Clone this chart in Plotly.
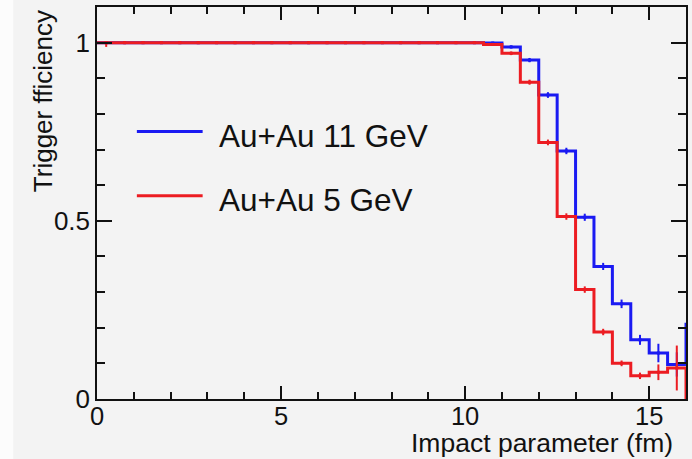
import numpy as np
import plotly.graph_objects as go

# Histogram binning (impact parameter, fm)
bin_width = 0.5
n_bins = 33
edges = np.arange(n_bins + 1) * bin_width
centers = edges[:-1] + bin_width / 2

# Trigger efficiency per bin, Au+Au 11 GeV
eff_11 = [1.0, 1.0, 1.0, 1.0, 1.0, 1.0, 1.0, 1.0, 1.0, 1.0, 1.0,
          1.0, 1.0, 1.0, 1.0, 1.0, 1.0, 1.0, 1.0, 1.0, 1.0,
          0.999, 0.988, 0.951, 0.853, 0.696, 0.510, 0.372, 0.267,
          0.166, 0.129, 0.097, 0.210]
err_lo_11 = [0.002, 0.002, 0.002, 0.002, 0.002, 0.002, 0.002, 0.002, 0.002, 0.002, 0.002,
             0.002, 0.002, 0.002, 0.002, 0.002, 0.002, 0.002, 0.002, 0.002, 0.002,
             0.002, 0.004, 0.006, 0.008, 0.009, 0.010, 0.010, 0.012,
             0.014, 0.026, 0.034, 0.050]
err_hi_11 = [0.0, 0.0, 0.0, 0.0, 0.0, 0.0, 0.0, 0.0, 0.0, 0.0, 0.0,
             0.0, 0.0, 0.0, 0.0, 0.0, 0.0, 0.0, 0.0, 0.0, 0.0,
             0.001, 0.004, 0.006, 0.008, 0.009, 0.010, 0.010, 0.012,
             0.014, 0.026, 0.034, 0.050]

# Trigger efficiency per bin, Au+Au 5 GeV
eff_5 = [1.0, 1.0, 1.0, 1.0, 1.0, 1.0, 1.0, 1.0, 1.0, 1.0, 1.0,
         1.0, 1.0, 1.0, 1.0, 1.0, 1.0, 1.0, 1.0, 1.0, 1.0,
         0.995, 0.970, 0.889, 0.720, 0.512, 0.307, 0.188, 0.100,
         0.065, 0.075, 0.087, 0.0]
err_lo_5 = [0.012, 0.004, 0.001, 0.001, 0.001, 0.001, 0.001, 0.001, 0.001, 0.001, 0.001,
            0.001, 0.001, 0.001, 0.001, 0.001, 0.001, 0.001, 0.001, 0.001, 0.001,
            0.003, 0.005, 0.007, 0.008, 0.009, 0.009, 0.009, 0.008,
            0.009, 0.022, 0.063, 0.0]
err_hi_5 = [0.0, 0.0, 0.0, 0.0, 0.0, 0.0, 0.0, 0.0, 0.0, 0.0, 0.0,
            0.0, 0.0, 0.0, 0.0, 0.0, 0.0, 0.0, 0.0, 0.0, 0.0,
            0.003, 0.005, 0.007, 0.008, 0.009, 0.009, 0.009, 0.008,
            0.009, 0.022, 0.063, 0.0]

series = [
    ("Au+Au 11 GeV", eff_11, err_lo_11, err_hi_11, "#1a1af2"),
    ("Au+Au 5 GeV", eff_5, err_lo_5, err_hi_5, "#ec1c22"),
]

FONT = "Liberation Sans, Arial, Helvetica, sans-serif"
BG = "#f3f3f3"
INK = "#111111"

fig = go.Figure()

for name, vals, elo, ehi, col in series:
    # histogram outline drawn as a step line over the bin edges
    fig.add_trace(go.Scatter(
        x=list(edges), y=list(vals) + [vals[-1]],
        mode="lines", line=dict(color=col, width=3, shape="hv"),
        name=name, showlegend=False, hoverinfo="skip",
    ))
    # bin-centre markers with error bars
    fig.add_trace(go.Scatter(
        x=list(centers), y=vals, mode="markers",
        marker=dict(symbol="square", size=3, color=col),
        error_y=dict(type="data", symmetric=False, array=ehi, arrayminus=elo,
                     color=col, thickness=2, width=0),
        showlegend=False, cliponaxis=True,
    ))

# Legend drawn by hand: sample line + label
def px_x(p):
    return (p - 97) / 591.0

def px_y(p):
    return (399.5 - p) / 392.5

legend_rows = [(131.7, 136, series[0]), (196, 200, series[1])]
shapes = [
    dict(type="rect", xref="paper", yref="paper", x0=px_x(-5), x1=px_x(13),
         y0=px_y(470), y1=px_y(-10), fillcolor="#fcfcfc", line=dict(width=0),
         layer="below"),
]
annotations = []
for ly, ty, (name, _, _, _, col) in legend_rows:
    shapes.append(dict(type="line", xref="paper", yref="paper",
                       x0=px_x(137), x1=px_x(203), y0=px_y(ly), y1=px_y(ly),
                       line=dict(color=col, width=3)))
    annotations.append(dict(text=name, xref="paper", yref="paper",
                            x=px_x(217), y=px_y(ty), xanchor="left", yanchor="middle",
                            showarrow=False, font=dict(family=FONT, size=31.5, color=INK)))

annotations.append(dict(text="Impact parameter (fm)", xref="paper", yref="paper",
                        x=px_x(677), y=px_y(444), xanchor="right", yanchor="middle",
                        showarrow=False, font=dict(family=FONT, size=26.5, color=INK)))
annotations.append(dict(text="Trigger fficiency", xref="paper", yref="paper",
                        x=px_x(43), y=px_y(8), xanchor="center", yanchor="top",
                        textangle=-90, showarrow=False,
                        font=dict(family=FONT, size=26, color=INK)))

axis_common = dict(
    showline=True, linecolor=INK, linewidth=1.5, mirror="ticks",
    ticks="inside", tickcolor=INK, tickwidth=1.5,
    showgrid=False, zeroline=False,
)

fig.update_layout(
    width=692, height=459,
    margin=dict(l=97, r=4, t=7, b=59.5),
    paper_bgcolor=BG, plot_bgcolor=BG,
    showlegend=False,
    shapes=shapes, annotations=annotations,
    xaxis=dict(range=[0, 16], dtick=5, tick0=0, ticklen=13, ticklabelstandoff=-6,
               tickfont=dict(family=FONT, size=25.5, color=INK),
               minor=dict(dtick=1, ticklen=7, ticks="inside", tickcolor=INK,
                          tickwidth=1.5, showgrid=False),
               **axis_common),
    yaxis=dict(range=[0, 1.1], dtick=0.5, tick0=0, ticklen=15,
               tickfont=dict(family=FONT, size=26, color=INK),
               minor=dict(dtick=0.1, ticklen=8, ticks="inside", tickcolor=INK,
                          tickwidth=1.5, showgrid=False),
               **axis_common),
)

fig.write_html("out.html")
